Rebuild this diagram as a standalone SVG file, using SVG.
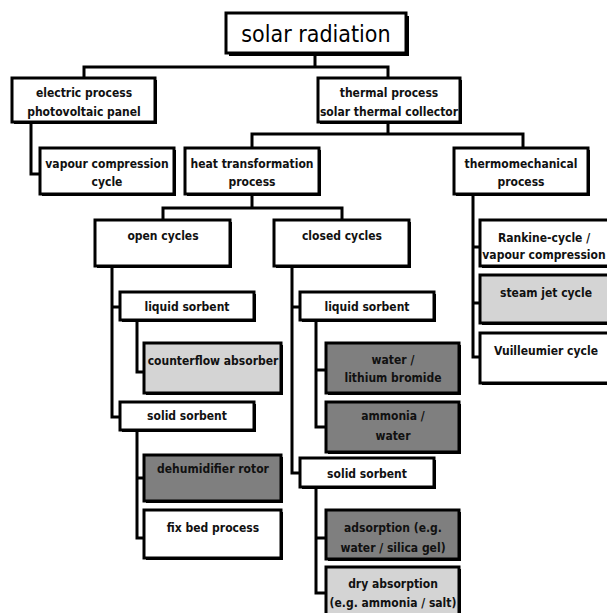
<svg xmlns="http://www.w3.org/2000/svg" width="607" height="613" viewBox="0 0 607 613">
<style>
.bx{stroke:#000;stroke-width:3;fill:#fff}
.sh{fill:#000}
.dk{fill:#7f7f7f}
.lt{fill:#d4d4d4}
.t{font-family:"DejaVu Sans Condensed","Liberation Sans",sans-serif;font-weight:bold;font-size:12px;fill:#111;text-anchor:middle}
.big{font-family:"DejaVu Sans Condensed","Liberation Sans",sans-serif;font-size:23px;fill:#000;text-anchor:middle}
.c{fill:none;stroke:#000;stroke-width:3}
</style>
<rect width="607" height="613" fill="#fff"/>
<g id="connectors">
<path class="c" d="M315,53V67M84,78V67H388V78"/>
<path class="c" d="M388,122V134M252,148V134H523V148"/>
<path class="c" d="M31,122V174H42"/>
<path class="c" d="M252,195V208M163,220V208H342V220"/>
<path class="c" d="M112,268V417H120M112,307H120"/>
<path class="c" d="M137,322V372H144"/>
<path class="c" d="M137,432V538H144M137,478H144"/>
<path class="c" d="M292,268V473H300M292,307H300"/>
<path class="c" d="M316,320V427H326M316,370H326"/>
<path class="c" d="M316,488V593H326M316,538H326"/>
<path class="c" d="M473,195V357H480M473,247H480M473,303H480"/>
</g>
<g id="solar">
<rect class="sh" x="229" y="16" width="180" height="40"/>
<rect class="bx" x="226" y="13" width="180" height="40"/>
<text class="big" x="316" y="42">solar radiation</text>
</g>
<g id="electric">
<rect class="sh" x="14" y="80" width="143" height="44"/>
<rect class="bx" x="12" y="78" width="143" height="44"/>
<text class="t" x="84" y="97">electric process</text>
<text class="t" x="84" y="116">photovoltaic panel</text>
</g>
<g id="thermal">
<rect class="sh" x="320" y="80" width="142" height="44"/>
<rect class="bx" x="318" y="78" width="142" height="44"/>
<text class="t" x="389" y="97">thermal process</text>
<text class="t" x="389" y="116">solar thermal collector</text>
</g>
<g id="vapour">
<rect class="sh" x="42" y="150" width="134" height="46"/>
<rect class="bx" x="40" y="148" width="134" height="46"/>
<text class="t" x="107" y="168">vapour compression</text>
<text class="t" x="107" y="186">cycle</text>
</g>
<g id="heat">
<rect class="sh" x="187" y="150" width="134" height="46"/>
<rect class="bx" x="185" y="148" width="134" height="46"/>
<text class="t" x="252" y="168">heat transformation</text>
<text class="t" x="252" y="186">process</text>
</g>
<g id="thermomech">
<rect class="sh" x="456" y="150" width="134" height="46"/>
<rect class="bx" x="454" y="148" width="134" height="46"/>
<text class="t" x="521" y="168">thermomechanical</text>
<text class="t" x="521" y="186">process</text>
</g>
<g id="open">
<rect class="sh" x="97" y="222" width="135" height="46"/>
<rect class="bx" x="95" y="220" width="135" height="46"/>
<text class="t" x="163" y="240">open cycles</text>
</g>
<g id="closed">
<rect class="sh" x="276" y="222" width="135" height="46"/>
<rect class="bx" x="274" y="220" width="135" height="46"/>
<text class="t" x="342" y="240">closed cycles</text>
</g>
<g id="liquid-open">
<rect class="sh" x="122" y="294" width="134" height="28"/>
<rect class="bx" x="120" y="292" width="134" height="28"/>
<text class="t" x="187" y="311">liquid sorbent</text>
</g>
<g id="counterflow">
<rect class="sh" x="146" y="345" width="137" height="50"/>
<rect class="bx lt" x="144" y="343" width="137" height="50"/>
<text class="t" x="213" y="365">counterflow absorber</text>
</g>
<g id="solid-open">
<rect class="sh" x="122" y="404" width="134" height="28"/>
<rect class="bx" x="120" y="402" width="134" height="28"/>
<text class="t" x="187" y="420">solid sorbent</text>
</g>
<g id="dehumidifier">
<rect class="sh" x="146" y="457" width="137" height="46"/>
<rect class="bx dk" x="144" y="455" width="137" height="46"/>
<text class="t" x="213" y="473">dehumidifier rotor</text>
</g>
<g id="fixbed">
<rect class="sh" x="146" y="512" width="137" height="48"/>
<rect class="bx" x="144" y="510" width="137" height="48"/>
<text class="t" x="213" y="532">fix bed process</text>
</g>
<g id="liquid-closed">
<rect class="sh" x="302" y="294" width="134" height="28"/>
<rect class="bx" x="300" y="292" width="134" height="28"/>
<text class="t" x="367" y="311">liquid sorbent</text>
</g>
<g id="lithium">
<rect class="sh" x="328" y="345" width="133" height="50"/>
<rect class="bx dk" x="326" y="343" width="133" height="50"/>
<text class="t" x="393" y="364">water /</text>
<text class="t" x="393" y="382">lithium bromide</text>
</g>
<g id="ammonia">
<rect class="sh" x="328" y="404" width="133" height="50"/>
<rect class="bx dk" x="326" y="402" width="133" height="50"/>
<text class="t" x="393" y="420">ammonia /</text>
<text class="t" x="393" y="440">water</text>
</g>
<g id="solid-closed">
<rect class="sh" x="302" y="460" width="134" height="29"/>
<rect class="bx" x="300" y="458" width="134" height="29"/>
<text class="t" x="367" y="478">solid sorbent</text>
</g>
<g id="adsorption">
<rect class="sh" x="328" y="512" width="133" height="49"/>
<rect class="bx dk" x="326" y="510" width="133" height="49"/>
<text class="t" x="393" y="532">adsorption (e.g.</text>
<text class="t" x="393" y="552">water / silica gel)</text>
</g>
<g id="dry">
<rect class="sh" x="328" y="569" width="133" height="50"/>
<rect class="bx lt" x="326" y="567" width="133" height="50"/>
<text class="t" x="393" y="588">dry absorption</text>
<text class="t" x="393" y="607">(e.g. ammonia / salt)</text>
</g>
<g id="rankine">
<rect class="sh" x="482" y="222" width="140" height="46"/>
<rect class="bx" x="480" y="220" width="140" height="46"/>
<text class="t" x="544" y="242">Rankine-cycle /</text>
<text class="t" x="544" y="259">vapour compression</text>
</g>
<g id="steam">
<rect class="sh" x="482" y="277" width="140" height="48"/>
<rect class="bx lt" x="480" y="275" width="140" height="48"/>
<text class="t" x="546" y="297">steam jet cycle</text>
</g>
<g id="vuilleumier">
<rect class="sh" x="482" y="335" width="140" height="50"/>
<rect class="bx" x="480" y="333" width="140" height="50"/>
<text class="t" x="546" y="355">Vuilleumier cycle</text>
</g>
</svg>
